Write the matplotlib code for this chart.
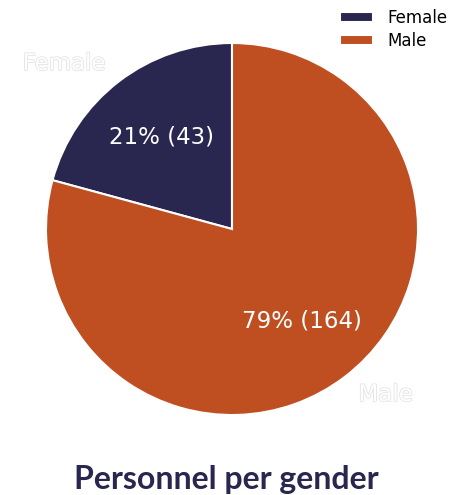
import matplotlib.pyplot as plt
import matplotlib.patheffects as pe

plt.rcParams["font.family"] = ["DejaVu Sans"]

genders = ["Female", "Male"]
counts = [43, 164]
colors = ["#29264f", "#bf4f20"]

total = sum(counts)


def pct_label(p):
    return f"{p:.0f}% ({round(p * total / 100)})"


fig = plt.figure(figsize=(4.53, 4.95), dpi=100)
ax = fig.add_axes([46 / 453, 80 / 495, 372 / 453, 372 / 495])

wedges, texts, autotexts = ax.pie(
    counts,
    labels=genders,
    colors=colors,
    startangle=90,
    autopct=pct_label,
    pctdistance=0.62,
    labeldistance=1.12,
    wedgeprops=dict(edgecolor="white", linewidth=1.5),
    textprops=dict(fontsize=16.5),
)
ax.set_xlim(-1, 1)
ax.set_ylim(-1, 1)
ax.set_aspect("equal")

for t in texts:
    t.set_color("white")
    t.set_path_effects([pe.withStroke(linewidth=1.2, foreground="#e4e4e4")])
for t in autotexts:
    t.set_color("white")
    t.set_fontsize(16.5)

fig.legend(wedges, genders, loc="upper right", bbox_to_anchor=(1.022, 1.012),
           frameon=False, fontsize=12, handlelength=2.0, handleheight=0.55,
           labelspacing=0.28, handletextpad=0.9)

fig.text(0.5, 0.032, "Personnel per gender", ha="center", va="center",
         fontsize=23, fontweight="bold", family="Lato", color="#29264f")

fig.savefig("out.png", dpi=100)
